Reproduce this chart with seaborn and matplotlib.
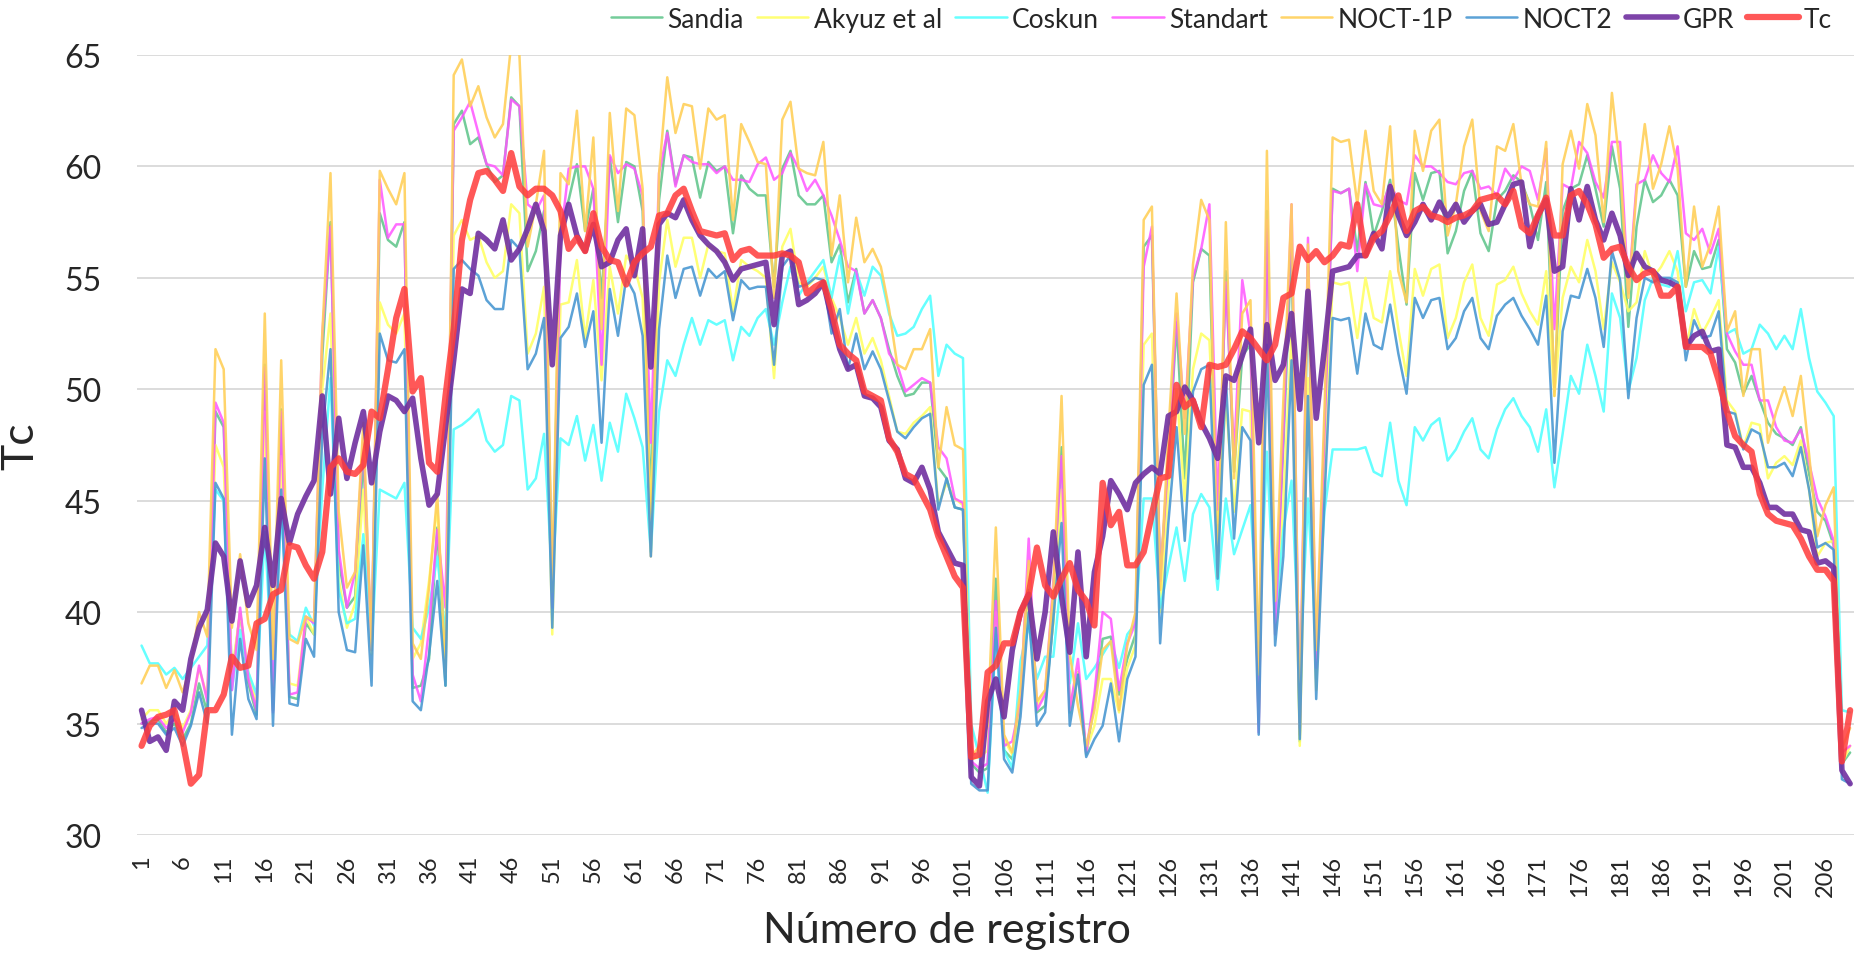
import numpy as np
import matplotlib
matplotlib.use("Agg")
import matplotlib.pyplot as plt
import seaborn as sns

# valores (registro 1..209)
sandia = [35.0, 35.1, 35.2, 34.6, 35.0, 34.3, 35.0, 36.8, 35.5, 49.0,
          48.3, 37.0, 40.0, 36.8, 35.4, 51.1, 35.6, 49.1, 36.2, 36.1,
          39.5, 39.0, 51.5, 57.5, 42.3, 40.2, 40.7, 47.0, 38.3, 57.9,
          56.7, 56.4, 57.5, 36.6, 36.7, 37.9, 43.8, 36.7, 61.9, 62.5,
          61.0, 61.3, 60.1, 59.3, 59.6, 63.1, 62.7, 55.3, 56.2, 58.0,
          40.9, 57.4, 58.5, 60.1, 57.1, 59.0, 54.1, 60.4, 57.5, 60.2,
          60.0, 58.0, 44.8, 58.5, 61.6, 59.2, 60.5, 60.4, 58.6, 60.2,
          59.8, 60.0, 57.0, 59.6, 59.0, 58.7, 58.7, 54.6, 59.9, 60.7,
          58.7, 58.3, 58.3, 58.7, 55.7, 56.5, 53.9, 55.4, 53.4, 54.0,
          53.2, 51.8, 50.6, 49.7, 49.8, 50.3, 50.3, 46.5, 46.0, 44.7,
          44.6, 33.2, 32.8, 33.0, 41.5, 33.8, 33.4, 35.8, 41.0, 35.5,
          35.8, 39.7, 47.4, 35.5, 37.3, 33.6, 36.0, 38.8, 38.9, 36.3,
          37.9, 39.0, 56.4, 56.9, 41.5, 46.5, 53.0, 46.0, 54.8, 56.3,
          56.0, 43.0, 55.3, 46.3, 51.5, 52.0, 35.0, 58.0, 39.5, 47.5,
          56.5, 34.2, 55.5, 37.0, 48.0, 59.0, 58.8, 59.0, 56.2, 59.3,
          56.9, 58.0, 59.4, 56.4, 53.8, 59.7, 58.5, 59.7, 59.8, 56.1,
          57.1, 58.9, 59.8, 57.0, 56.2, 58.5, 58.9, 59.6, 59.3, 58.3,
          56.7, 59.3, 49.9, 58.0, 59.0, 59.2, 60.5, 59.0, 57.3, 60.9,
          59.0, 52.8, 57.3, 59.4, 58.4, 58.7, 59.4, 58.7, 54.6, 56.2,
          55.4, 55.5, 56.7, 51.8, 51.2, 49.8, 50.6, 49.5, 48.5, 48.0,
          47.8, 47.5, 48.3, 46.2, 44.5, 44.1, 43.0, 33.2, 33.7]

akyuz = [35.2, 35.6, 35.6, 35.0, 35.5, 34.8, 35.6, 37.5, 36.2, 47.5,
         46.5, 37.3, 40.0, 37.3, 35.9, 49.0, 36.3, 47.0, 36.8, 36.7,
         39.8, 39.0, 50.0, 53.4, 41.5, 39.3, 40.4, 45.5, 38.1, 53.9,
         52.9, 52.5, 53.4, 37.9, 38.6, 41.4, 44.8, 37.9, 56.9, 57.6,
         56.7, 56.9, 55.7, 55.0, 55.3, 58.3, 57.9, 51.6, 52.5, 54.6,
         39.0, 53.8, 53.9, 55.8, 52.3, 54.9, 50.4, 55.5, 53.4, 56.0,
         55.5, 54.1, 44.4, 54.8, 57.6, 55.5, 56.8, 56.8, 55.0, 56.5,
         56.2, 56.1, 53.5, 55.8, 55.5, 55.3, 55.0, 50.5, 56.4, 57.2,
         54.8, 54.6, 55.0, 55.5, 54.1, 53.2, 52.0, 53.2, 51.6, 52.3,
         51.3, 49.7, 48.1, 48.0, 48.5, 48.8, 49.2, 44.8, 45.8, 45.1,
         44.8, 33.4, 33.5, 33.8, 40.0, 34.3, 33.6, 36.2, 40.3, 35.8,
         36.5, 39.5, 45.5, 35.8, 37.3, 33.8, 34.9, 37.0, 37.0, 35.5,
         37.5, 38.5, 52.0, 52.5, 40.0, 45.5, 50.0, 45.0, 50.9, 52.5,
         52.2, 44.0, 49.5, 44.5, 49.1, 49.0, 35.5, 53.0, 39.0, 45.0,
         52.5, 34.0, 50.5, 36.5, 46.0, 54.8, 54.7, 54.8, 52.3, 55.0,
         53.2, 53.0, 55.3, 52.7, 50.6, 55.4, 54.2, 55.4, 55.6, 52.3,
         53.2, 54.8, 55.6, 53.2, 52.4, 54.7, 54.9, 55.5, 54.3, 53.5,
         52.9, 55.3, 49.7, 54.1, 55.5, 54.8, 56.7, 55.3, 52.7, 55.7,
         54.8, 53.5, 53.9, 56.2, 55.0, 55.5, 56.2, 55.3, 51.8, 53.6,
         52.5, 53.2, 54.0, 49.5, 49.0, 47.4, 48.5, 48.4, 46.0, 46.7,
         47.0, 46.6, 47.7, 45.5, 42.5, 43.1, 43.2, 33.2, 34.0]

coskun = [38.5, 37.7, 37.7, 37.2, 37.5, 37.0, 37.5, 38.0, 38.5, 45.5,
          45.0, 36.5, 39.2, 37.3, 36.3, 43.6, 37.0, 44.5, 39.0, 38.7,
          40.2, 39.4, 45.5, 50.5, 41.0, 39.5, 39.7, 43.5, 38.3, 45.5,
          45.3, 45.1, 45.8, 39.3, 38.8, 40.2, 42.5, 39.0, 48.2, 48.4,
          48.7, 49.1, 47.7, 47.2, 47.5, 49.7, 49.5, 45.5, 46.0, 48.0,
          41.4, 47.8, 47.5, 48.8, 46.8, 48.4, 45.9, 48.5, 47.2, 49.8,
          48.7, 47.4, 42.7, 49.0, 51.3, 50.6, 52.0, 53.2, 52.0, 53.1,
          52.9, 53.1, 51.3, 52.8, 52.4, 53.2, 53.6, 52.0, 53.9, 55.5,
          54.2, 54.8, 55.3, 55.8, 54.1, 56.0, 53.4, 55.3, 54.2, 55.5,
          55.1, 53.4, 52.4, 52.5, 52.8, 53.6, 54.2, 50.6, 52.0, 51.6,
          51.4, 35.0, 33.5, 31.9, 39.0, 33.8, 33.0, 37.8, 39.4, 37.0,
          38.0, 38.0, 41.7, 36.8, 39.5, 37.0, 37.5, 38.1, 38.7, 37.5,
          39.0, 39.5, 45.1, 45.1, 40.2, 42.0, 43.8, 41.4, 44.4, 45.3,
          44.7, 41.0, 45.1, 42.6, 43.7, 44.8, 39.0, 47.2, 39.5, 43.7,
          45.9, 37.5, 45.1, 38.5, 44.5, 47.3, 47.3, 47.3, 47.3, 47.4,
          46.3, 46.1, 48.5, 45.9, 44.8, 48.3, 47.7, 48.4, 48.7, 46.8,
          47.3, 48.1, 48.7, 47.3, 46.9, 48.2, 49.1, 49.6, 48.8, 48.3,
          47.2, 49.1, 45.6, 48.0, 50.6, 49.8, 52.0, 50.6, 49.0, 54.3,
          53.2, 49.9, 51.4, 54.0, 55.0, 54.7, 54.6, 56.2, 53.5, 54.8,
          54.9, 54.3, 56.4, 52.5, 52.7, 51.6, 51.8, 52.9, 52.5, 51.8,
          52.4, 51.8, 53.6, 51.4, 49.9, 49.4, 48.8, 35.6, 35.5]

standart = [35.0, 35.2, 35.3, 34.8, 35.2, 34.6, 35.5, 37.6, 36.0, 49.4,
            48.5, 36.5, 40.2, 37.0, 35.6, 51.0, 35.5, 49.0, 36.3, 36.4,
            39.8, 39.5, 52.5, 57.3, 42.8, 40.2, 41.8, 47.8, 38.3, 59.4,
            56.8, 57.4, 57.4, 37.2, 36.0, 39.3, 43.7, 40.2, 61.6, 62.2,
            62.9, 61.5, 60.1, 60.0, 59.6, 63.0, 62.7, 58.3, 58.0, 58.7,
            40.2, 56.7, 59.9, 60.0, 60.0, 59.0, 51.1, 60.5, 59.7, 60.1,
            59.9, 58.7, 47.6, 59.7, 61.5, 59.1, 60.5, 60.2, 60.1, 60.1,
            59.7, 60.0, 59.4, 59.4, 59.3, 60.1, 60.4, 59.4, 59.7, 60.6,
            59.9, 58.9, 59.4, 58.7, 57.8, 56.7, 55.5, 55.3, 53.4, 54.0,
            53.2, 51.6, 51.1, 49.9, 50.2, 50.5, 50.3, 47.4, 46.9, 45.1,
            44.9, 33.3, 33.0, 33.2, 40.5, 34.0, 34.2, 36.0, 43.3, 35.6,
            36.3, 41.4, 47.0, 35.6, 37.9, 33.7, 36.3, 40.0, 39.7, 36.5,
            38.6, 39.5, 55.5, 57.3, 41.4, 47.0, 53.4, 48.7, 55.0, 56.3,
            58.3, 44.6, 54.8, 47.0, 54.9, 52.5, 34.6, 57.6, 39.0, 48.0,
            58.3, 34.8, 56.8, 37.5, 48.0, 58.9, 58.8, 59.0, 55.3, 59.2,
            58.3, 58.2, 59.2, 58.5, 58.3, 60.5, 60.0, 60.0, 59.7, 59.3,
            59.2, 59.7, 59.8, 59.0, 59.1, 58.7, 59.9, 59.4, 60.0, 59.8,
            58.5, 60.8, 52.7, 59.2, 59.0, 61.1, 60.6, 59.3, 58.6, 61.1,
            61.1, 54.3, 59.2, 59.4, 60.5, 59.7, 59.3, 60.9, 57.0, 56.7,
            57.2, 56.1, 57.2, 52.5, 51.7, 51.1, 51.1, 49.5, 49.5, 48.3,
            47.7, 47.6, 48.2, 46.7, 45.1, 44.3, 43.2, 33.7, 34.0]

noct_1p = [36.8, 37.6, 37.6, 36.6, 37.4, 36.4, 37.6, 40.0, 38.9, 51.8,
           50.9, 39.3, 42.6, 39.5, 38.3, 53.4, 37.9, 51.3, 38.8, 38.6,
           39.8, 39.6, 52.5, 59.7, 44.5, 41.1, 41.8, 48.5, 38.3, 59.8,
           59.0, 58.3, 59.7, 38.6, 37.9, 41.1, 45.3, 37.2, 64.1, 64.8,
           62.7, 63.6, 62.2, 61.3, 61.9, 65.5, 65.0, 56.4, 58.3, 60.7,
           40.9, 59.7, 59.2, 62.5, 57.1, 61.3, 52.7, 62.4, 58.0, 62.6,
           62.3, 59.0, 42.5, 59.7, 64.0, 61.5, 62.8, 62.7, 59.9, 62.6,
           62.1, 62.3, 57.6, 61.9, 61.1, 60.2, 60.1, 54.1, 62.1, 62.9,
           59.9, 59.7, 59.6, 61.1, 56.0, 58.7, 54.8, 57.7, 55.7, 56.3,
           55.5, 53.6, 51.1, 50.9, 51.8, 51.8, 52.7, 46.5, 49.2, 47.5,
           47.3, 33.5, 34.0, 34.9, 43.8, 34.5, 33.7, 36.5, 42.3, 36.0,
           36.5, 41.0, 49.7, 38.1, 35.8, 34.0, 35.6, 38.3, 38.7, 35.6,
           38.5, 40.0, 57.6, 58.2, 41.0, 48.0, 54.3, 48.0, 55.6, 58.5,
           57.6, 41.6, 57.5, 46.0, 53.4, 54.0, 37.2, 60.7, 40.5, 49.5,
           58.3, 34.5, 56.5, 38.3, 49.0, 61.3, 61.1, 61.2, 58.3, 61.6,
           58.9, 58.3, 61.8, 55.3, 53.9, 61.6, 59.8, 61.6, 62.1, 56.9,
           58.3, 60.9, 62.1, 58.0, 57.1, 60.9, 60.7, 61.9, 59.2, 58.3,
           58.2, 61.1, 49.7, 60.1, 61.6, 59.9, 62.8, 61.4, 57.5, 63.3,
           59.9, 54.1, 58.9, 61.9, 59.0, 60.1, 61.8, 59.9, 54.6, 58.2,
           55.5, 56.5, 58.2, 52.6, 53.5, 49.7, 51.8, 51.8, 47.6, 49.0,
           50.1, 48.8, 50.6, 47.1, 43.4, 44.8, 45.6, 33.9, 34.8]

noct2 = [34.8, 35.0, 35.0, 34.5, 34.8, 34.0, 34.9, 36.4, 35.0, 45.8,
         45.1, 34.5, 38.8, 36.1, 35.2, 46.9, 34.9, 45.5, 35.9, 35.8,
         38.8, 38.0, 48.0, 51.8, 40.0, 38.3, 38.2, 43.0, 36.7, 52.5,
         51.3, 51.2, 51.8, 36.0, 35.6, 38.1, 41.4, 36.7, 55.4, 55.8,
         55.4, 55.1, 54.0, 53.6, 53.6, 56.7, 56.3, 50.9, 51.6, 53.2,
         39.3, 52.3, 52.8, 54.3, 51.9, 53.5, 47.6, 54.5, 52.4, 55.0,
         54.3, 52.4, 42.5, 52.7, 56.0, 54.1, 55.4, 55.5, 54.2, 55.4,
         55.0, 55.3, 53.1, 54.9, 54.5, 54.6, 54.6, 51.1, 55.5, 56.0,
         54.6, 54.7, 55.0, 54.9, 52.5, 53.6, 50.9, 52.5, 50.9, 51.7,
         50.9, 49.5, 48.1, 47.8, 48.3, 48.7, 48.9, 44.6, 46.0, 44.7,
         44.6, 32.3, 32.0, 32.0, 39.3, 33.4, 32.8, 35.3, 40.0, 34.9,
         35.5, 39.7, 44.0, 34.9, 37.2, 33.5, 34.3, 34.9, 36.8, 34.2,
         37.0, 38.0, 50.2, 51.1, 38.6, 44.0, 48.3, 43.2, 49.9, 50.9,
         51.1, 41.5, 50.5, 43.3, 48.3, 47.7, 34.5, 52.0, 38.5, 42.5,
         51.3, 34.3, 49.7, 36.1, 45.0, 53.2, 53.1, 53.2, 50.7, 53.4,
         52.0, 51.8, 53.8, 51.6, 49.8, 54.1, 53.2, 54.0, 54.1, 51.8,
         52.3, 53.5, 54.1, 52.3, 51.8, 53.3, 53.8, 54.1, 53.3, 52.7,
         52.0, 54.2, 46.7, 52.6, 54.2, 54.1, 55.4, 54.1, 51.9, 56.2,
         54.9, 49.6, 53.2, 55.0, 54.8, 55.0, 55.0, 54.8, 51.3, 53.1,
         52.3, 52.4, 53.5, 49.0, 48.9, 47.3, 48.2, 48.0, 46.5, 46.5,
         46.7, 46.1, 47.4, 45.5, 42.9, 43.1, 42.8, 32.5, 32.3]

gpr = [35.6, 34.2, 34.4, 33.8, 36.0, 35.6, 37.9, 39.3, 40.1, 43.1,
       42.5, 39.6, 42.3, 40.3, 41.2, 43.8, 41.2, 45.1, 43.1, 44.4,
       45.2, 45.9, 49.7, 45.3, 48.7, 46.0, 47.6, 49.0, 45.8, 48.1,
       49.7, 49.5, 49.0, 49.6, 46.9, 44.8, 45.3, 48.3, 51.3, 54.5,
       54.3, 57.0, 56.7, 56.3, 57.6, 55.8, 56.3, 57.2, 58.3, 57.1,
       51.1, 56.9, 58.3, 56.9, 56.2, 57.4, 55.5, 55.7, 56.7, 57.2,
       55.1, 57.2, 51.0, 57.4, 57.9, 57.7, 58.5, 57.6, 56.9, 56.5,
       56.2, 55.7, 54.9, 55.4, 55.5, 55.6, 55.7, 52.9, 56.0, 56.2,
       53.8, 54.0, 54.3, 54.8, 53.2, 51.8, 50.9, 51.1, 49.7, 49.6,
       49.2, 47.7, 47.3, 46.0, 45.8, 46.5, 45.5, 43.6, 42.9, 42.2,
       42.1, 32.6, 32.2, 36.0, 37.0, 35.3, 38.3, 40.0, 40.8, 37.9,
       40.0, 43.6, 40.7, 38.2, 42.7, 38.0, 41.8, 43.4, 45.9, 45.3,
       44.6, 45.8, 46.2, 46.5, 46.2, 48.8, 49.0, 50.1, 49.5, 48.5,
       47.8, 46.9, 50.6, 50.4, 51.5, 52.7, 47.6, 52.9, 50.4, 51.1,
       53.4, 49.1, 54.4, 48.7, 51.8, 55.3, 55.4, 55.5, 56.0, 56.0,
       57.0, 56.3, 59.1, 57.8, 56.9, 57.5, 58.3, 57.6, 58.4, 57.7,
       58.3, 57.5, 58.0, 58.3, 57.4, 57.5, 58.3, 59.2, 59.3, 56.4,
       57.8, 58.5, 55.3, 55.5, 59.0, 57.6, 59.1, 57.6, 56.7, 57.9,
       56.9, 55.1, 56.1, 55.5, 55.3, 54.9, 54.8, 54.6, 51.9, 52.4,
       52.6, 51.7, 51.8, 47.5, 47.4, 46.5, 46.5, 45.8, 44.7, 44.7,
       44.4, 44.4, 43.7, 43.6, 42.2, 42.3, 42.0, 32.9, 32.3]

tc = [34.0, 34.9, 35.3, 35.4, 35.6, 34.2, 32.3, 32.7, 35.6, 35.6,
      36.3, 38.0, 37.5, 37.6, 39.5, 39.7, 40.8, 41.0, 43.0, 42.9,
      42.1, 41.5, 42.7, 46.5, 46.9, 46.3, 46.2, 46.6, 49.0, 48.7,
      50.9, 53.2, 54.5, 49.9, 50.5, 46.7, 46.3, 49.7, 52.7, 56.7,
      58.5, 59.7, 59.8, 59.4, 58.9, 60.6, 59.1, 58.7, 59.0, 59.0,
      58.7, 58.0, 56.3, 56.8, 56.2, 57.9, 56.4, 55.8, 55.7, 54.7,
      55.7, 56.1, 56.4, 57.8, 57.9, 58.7, 59.0, 58.0, 57.1, 57.0,
      56.9, 57.0, 55.8, 56.2, 56.3, 56.0, 56.0, 56.0, 56.1, 56.0,
      55.7, 54.3, 54.6, 54.8, 53.6, 52.0, 51.6, 51.3, 49.9, 49.7,
      49.5, 47.8, 47.2, 46.2, 46.0, 45.3, 44.6, 43.4, 42.5, 41.6,
      41.1, 33.5, 33.6, 37.3, 37.6, 38.6, 38.6, 40.0, 40.8, 42.9,
      41.2, 40.7, 41.5, 42.2, 41.0, 40.5, 39.4, 45.8, 43.9, 44.5,
      42.1, 42.1, 42.7, 44.4, 46.0, 46.1, 50.2, 49.2, 49.5, 48.3,
      51.1, 51.0, 51.1, 51.8, 52.6, 52.3, 51.8, 51.3, 52.0, 54.1,
      54.3, 56.4, 55.8, 56.2, 55.7, 56.0, 56.5, 56.4, 58.3, 56.0,
      56.8, 57.1, 57.8, 58.7, 57.1, 58.0, 58.2, 57.8, 57.7, 57.5,
      57.7, 57.8, 58.0, 58.5, 58.6, 58.7, 58.3, 58.9, 57.3, 57.0,
      57.8, 58.6, 56.9, 56.9, 58.7, 58.9, 58.3, 57.4, 55.9, 56.3,
      56.4, 55.5, 54.9, 55.2, 55.3, 54.2, 54.2, 54.6, 51.9, 51.9,
      51.9, 51.6, 50.4, 49.0, 47.9, 47.5, 47.2, 45.3, 44.4, 44.1,
      44.0, 43.9, 43.3, 42.5, 41.9, 41.9, 41.4, 33.3, 35.6]

registro = np.arange(1, len(tc) + 1)

# nombre, datos, color, grosor, alpha
series = [
    ("Sandia", sandia, "#5cc488", 1.8, 0.85),
    ("Akyuz et al", akyuz, "#ffff66", 1.8, 0.9),
    ("Coskun", coskun, "#55ffff", 1.8, 0.9),
    ("Standart", standart, "#ff55ff", 1.8, 0.85),
    ("NOCT-1P", noct_1p, "#ffd05a", 1.8, 0.9),
    ("NOCT2", noct2, "#4a98d2", 1.8, 0.9),
    ("GPR", gpr, "#7030a0", 4.0, 0.9),
    ("Tc", tc, "#ff3b3b", 4.5, 0.85),
]

sns.set_style("white")
plt.rcParams['font.family'] = ['Lato', 'DejaVu Sans']

fig = plt.figure(figsize=(18.6, 9.54), dpi=100)
ax = fig.add_axes([0.0739, 0.1237, 0.923, 0.8176])

for name, vals, color, lw, a in series:
    sns.lineplot(x=registro, y=vals, ax=ax, color=color, linewidth=lw,
                 alpha=a, label=name)

ax.set_xlim(0.5, len(tc) + 0.5)
ax.set_ylim(30, 65)
ax.set_yticks(range(30, 66, 5))
ax.set_xticks(range(1, len(tc), 5))
ax.set_xticklabels([str(i) for i in range(1, len(tc), 5)], rotation=90,
                   fontsize=17)
ax.set_yticklabels([str(v) for v in range(30, 66, 5)], fontsize=23)
ax.tick_params(axis='y', length=0, pad=26)
ax.tick_params(axis='x', length=0, pad=14)

ax.yaxis.grid(True, color='#d9d9d9', linewidth=1.3)
ax.xaxis.grid(False)
for s in ax.spines.values():
    s.set_visible(False)

ax.set_ylabel('Tc', fontsize=32, va='center')
ax.yaxis.set_label_coords(-0.068, 0.5)
ax.set_xlabel('Número de registro', fontsize=31, va='center')
ax.xaxis.set_label_coords(0.4716, -0.122)

ax.legend(loc='center right', bbox_to_anchor=(0.992, 0.979),
          bbox_transform=fig.transFigure, ncol=8, frameon=False,
          fontsize=19, handlelength=1.95, handletextpad=0.2,
          columnspacing=0.5, borderpad=0)

fig.savefig('out.png', dpi=100)
